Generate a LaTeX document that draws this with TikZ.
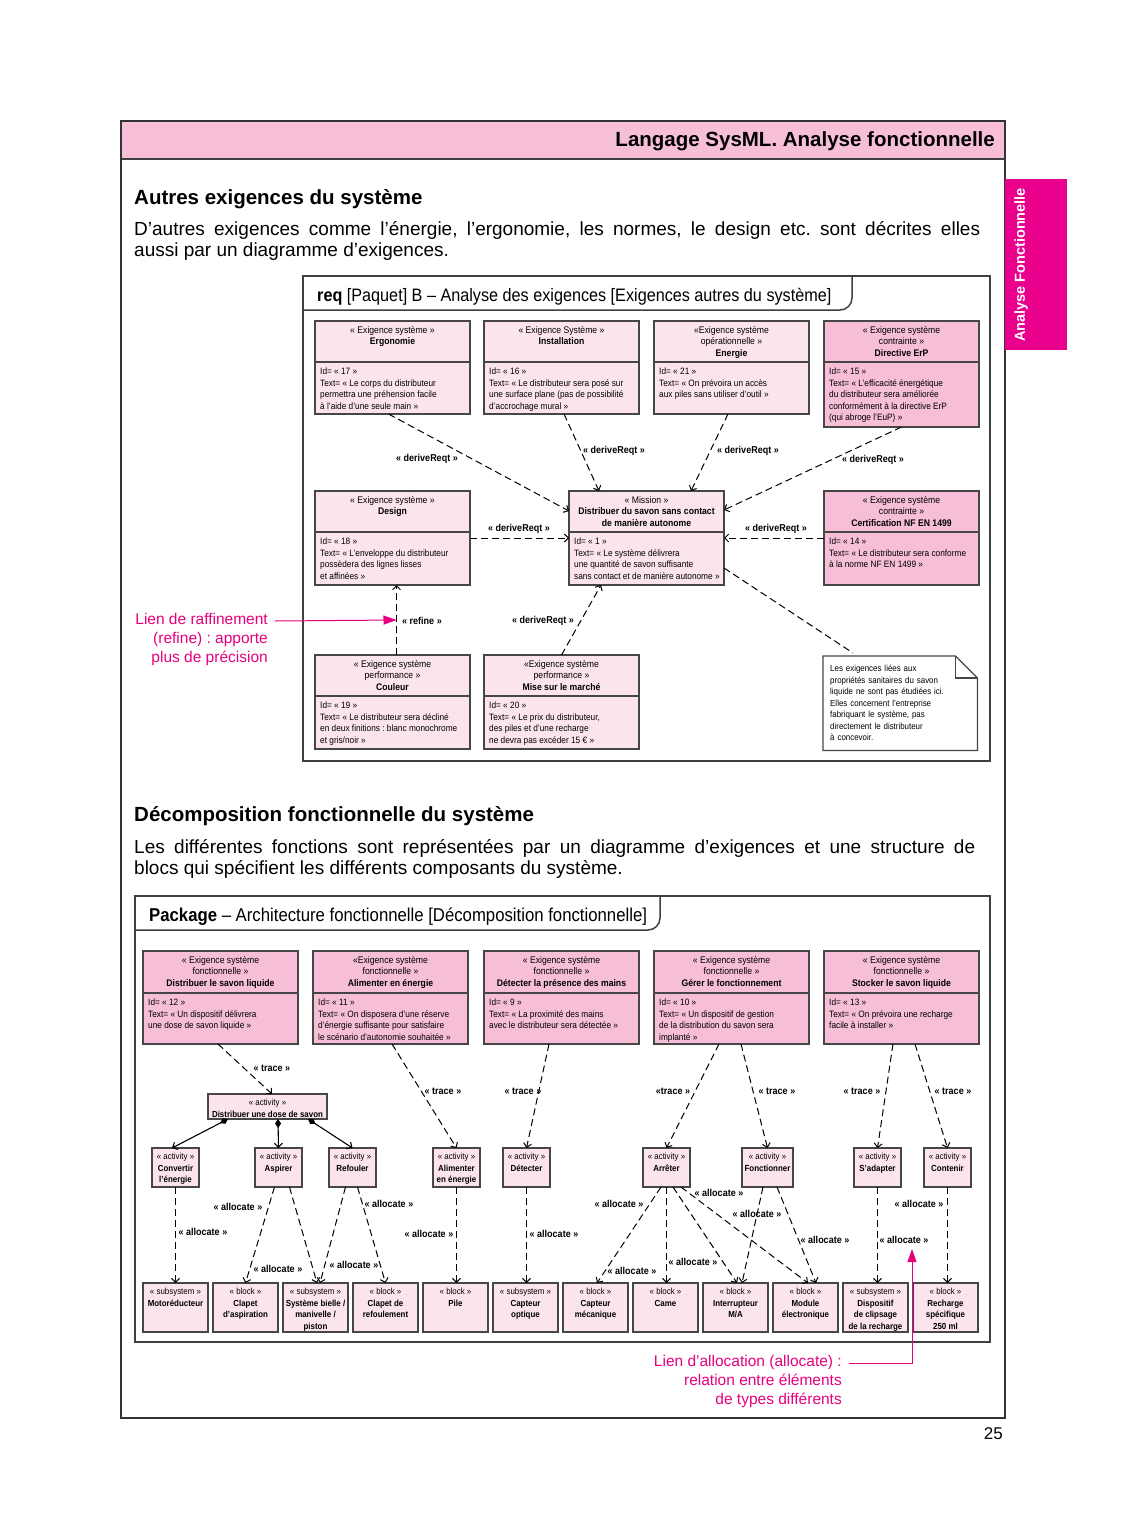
\documentclass[tikz,border=0pt]{standalone}
\usepackage{fontspec}
\setmainfont{Liberation Sans}
\newfontfamily\condfont{Liberation Sans}[FakeStretch=0.9]
\usetikzlibrary{arrows.meta,positioning,calc}
\frenchspacing

\definecolor{bandpink}{RGB}{247,190,216}
\definecolor{reqdark}{RGB}{246,190,215}
\definecolor{reqlight}{RGB}{252,228,239}
\definecolor{tabmag}{RGB}{233,0,140}
\definecolor{annotmag}{RGB}{230,0,126}
\definecolor{boxgray}{RGB}{70,70,70}

\newcommand\headfont{\condfont\fontsize{9.6}{11.6}\selectfont}
\newcommand\boxfont{\condfont\fontsize{9.2}{11.4}\selectfont}
\newcommand\actfont{\condfont\fontsize{8.8}{11.5}\selectfont}
\newcommand\lblfont{\condfont\bfseries\fontsize{10}{11}\selectfont}

% requirement box: header and body compartments
\newcommand\reqbox[7]{%
  \node[reqframe, fill=#3, minimum height=#5pt, #2, anchor=north west] (#1) {};
  \draw[boxline] ([yshift=-#4pt]#1.north west) -- ([yshift=-#4pt]#1.north east);
  \node[headtext] (#1-h) at ([yshift=-5pt]#1.north) {#6};
  \node[bodytext] (#1-b) at ([xshift=5pt,yshift=-#4pt-6pt]#1.north west) {#7};
}
% activity or block box
\newcommand\umlbox[4]{%
  \node[#1, #3, anchor=north west] (#2) {};
  \node[acttext] (#2-t) at ([yshift=-5pt]#2.north) {#4};
}

\begin{document}
\begin{tikzpicture}[
        x=1pt, y=-1pt,
        boxline/.style={draw=boxgray, line width=1.2pt},
        frameline/.style={draw=black!75, line width=1.5pt},
        reqframe/.style={
            boxline,
            rectangle,
            minimum width=155pt,
            inner sep=0pt,
            outer sep=0pt
        },
        headtext/.style={font=\headfont, align=center, inner sep=0pt, anchor=north},
        bodytext/.style={font=\boxfont, align=left, inner sep=0pt, anchor=north west},
        acttext/.style={font=\actfont, align=center, inner sep=0pt, anchor=north},
        actframe/.style={boxline, fill=reqlight, minimum width=47pt, minimum height=39pt, inner sep=0pt, outer sep=0pt},
        blockframe/.style={actframe, minimum width=65pt, minimum height=49pt},
        dep/.style={
            line width=1pt,
            dash pattern=on 7pt off 4pt,
            -{Straight Barb[length=4pt,width=8pt]}
        },
        link/.style={line width=1pt, dash pattern=on 7pt off 4pt},
        comp/.style={
            line width=1.1pt,
            {Diamond[length=9pt,width=6pt]}-{Straight Barb[length=4pt,width=8pt]}
        },
        lbl/.style={font=\lblfont, inner sep=0pt},
        annot/.style={text=annotmag, inner sep=0pt, align=right, font=\fontsize{15.5}{19}\selectfont},
        annotarrow/.style={draw=annotmag, line width=1pt, -{Triangle[length=13pt,width=9pt]}}
    ]

        \fill[white] (0,0) rectangle (1125,1539);
        \useasboundingbox (0,0) rectangle (1125,1539);

        % page frame and header
        \fill[bandpink] (121,121) rectangle (1005,159);
        \draw[frameline] (121,159) -- (1005,159);
        \draw[line width=1.8pt, draw=black!80] (121,121) rectangle (1005,1418);
        \node[anchor=east, inner sep=0pt, font=\bfseries\fontsize{20.5}{24}\selectfont] (pagetitle) at (995,141) {Langage SysML. Analyse fonctionnelle};

        \node[fill=tabmag, minimum width=62pt, minimum height=171pt, inner sep=0pt, anchor=north west] (tab) at (1005,179) {};
        \node[rotate=90, text=white, font=\bfseries\fontsize{14.5}{18}\selectfont] (tabtext) at (1021,265) {Analyse Fonctionnelle};

        % first section
        \node[anchor=base west, inner sep=0pt, font=\bfseries\fontsize{20.5}{24}\selectfont] (sec1) at (134,204) {Autres exigences du système};
        \node[anchor=north west, text width=846pt, align=justify, inner sep=0pt, font=\fontsize{19}{21}\selectfont] (para1) at (134,221)
            {D’autres exigences comme l’énergie, l’ergonomie, les normes, le design etc. sont décrites elles\linebreak aussi par un diagramme d’exigences.};

        \draw[frameline] (303,276) rectangle (990,761);
        \draw[frameline, rounded corners=12pt] (303,310) -- (852,310) -- (852,276);
        \node[anchor=base west, inner sep=0pt, font=\condfont\fontsize{18}{20}\selectfont] (reqtitle) at (317,301)
            {\textbf{req} [Paquet] B – Analyse des exigences [Exigences autres du système]};

        \reqbox{ergo}{at={(315,321)}}{reqlight}{41}{93}
            {« Exigence système »\\\textbf{Ergonomie}}
            {Id= « 17 »\\Text= « Le corps du distributeur\\permettra une préhension facile\\à l’aide d’une seule main »}
        \reqbox{inst}{right=14pt of ergo.north east}{reqlight}{41}{93}
            {« Exigence Système »\\\textbf{Installation}}
            {Id= « 16 »\\Text= « Le distributeur sera posé sur\\une surface plane (pas de possibilité\\d’accrochage mural »}
        \reqbox{ener}{right=15pt of inst.north east}{reqlight}{41}{93}
            {«Exigence système\\opérationnelle »\\\textbf{Energie}}
            {Id= « 21 »\\Text= « On prévoira un accès\\aux piles sans utiliser d’outil »}
        \reqbox{erp}{right=15pt of ener.north east}{reqdark}{41}{106}
            {« Exigence système\\contrainte »\\\textbf{Directive ErP}}
            {Id= « 15 »\\Text= « L’efficacité énergétique\\du distributeur sera améliorée\\conformément à la directive ErP\\(qui abroge l’EuP) »}

        \reqbox{design}{below=77pt of ergo.south west}{reqlight}{41}{94}
            {« Exigence système »\\\textbf{Design}}
            {Id= « 18 »\\Text= « L’enveloppe du distributeur\\possèdera des lignes lisses\\et affinées  »}
        \reqbox{mission}{right=99pt of design.north east}{reqlight}{41}{94}
            {« Mission »\\\textbf{Distribuer du savon sans contact}\\\textbf{de manière autonome}}
            {Id= « 1 »\\Text= « Le système délivrera\\une quantité de savon suffisante\\sans contact et de manière autonome »}
        \reqbox{cert}{right=100pt of mission.north east}{reqdark}{41}{94}
            {« Exigence système\\contrainte »\\\textbf{Certification NF EN 1499}}
            {Id= « 14 »\\Text= « Le distributeur sera conforme\\à la norme NF EN 1499 »}

        \reqbox{couleur}{below=70pt of design.south west}{reqlight}{41}{94}
            {« Exigence système\\performance »\\\textbf{Couleur}}
            {Id= « 19 »\\Text= « Le distributeur sera décliné\\en deux finitions : blanc monochrome\\et gris/noir »}
        \reqbox{mise}{right=14pt of couleur.north east}{reqlight}{41}{94}
            {«Exigence système\\performance »\\\textbf{Mise sur le marché}}
            {Id= « 20 »\\Text= « Le prix du distributeur,\\des piles et d’une recharge\\ne devra pas excéder 15 € »}

        % note
        \node[font=\actfont, align=left, text width=140pt, inner sep=7pt, minimum height=94pt, anchor=north west] (note) at (823,656)
            {Les exigences liées aux\\propriétés sanitaires du savon\\liquide ne sont pas étudiées ici.\\Elles concernent l’entreprise\\fabriquant le système, pas\\directement le distributeur\\à concevoir.};
        \draw[boxline] (note.north west) -- ([xshift=-22pt]note.north east) -- ([yshift=-22pt]note.north east)
            -- (note.south east) -- (note.south west) -- cycle;
        \draw[boxline] ([xshift=-22pt]note.north east) -- ([xshift=-22pt,yshift=-22pt]note.north east) -- ([yshift=-22pt]note.north east);

        % requirement links
        \draw[dep] ([xshift=-4pt]ergo.south) -- ([yshift=-20pt]mission.north west);
        \draw[dep] ([xshift=2.5pt]inst.south) -- ([xshift=-47.5pt]mission.north);
        \draw[dep] ([xshift=-3.5pt]ener.south) -- ([xshift=44.5pt]mission.north);
        \draw[dep] (erp.south) -- ([yshift=-19pt]mission.north east);
        \draw[dep] (design.east) -- (design.east -| mission.west);
        \draw[dep] (cert.west) -- (cert.west -| mission.east);
        \draw[dep] ([xshift=4pt]couleur.north) -- coordinate (refmid) ([xshift=4pt]design.south);
        \draw[dep] (mise.north) -- ([xshift=-45.5pt]mission.south);
        \draw[link] ([yshift=-30pt]mission.east) -- ([xshift=30pt,yshift=3pt]note.north west);

        \node[lbl] (dr1) at (427,459) {« deriveReqt »};
        \node[lbl] (dr2) at (614,451) {« deriveReqt »};
        \node[lbl] (dr3) at (748,451) {« deriveReqt »};
        \node[lbl] (dr4) at (873,460) {« deriveReqt »};
        \node[lbl] (dr5) at (519,529) {« deriveReqt »};
        \node[lbl] (dr6) at (776,529) {« deriveReqt »};
        \node[lbl] (rf1) at (422,621) {« refine »};
        \node[lbl] (dr7) at (543,621) {« deriveReqt »};

        % refine annotation
        \node[annot, anchor=north east] (refnote) at (268,613) {Lien de raffinement\\(refine) : apporte\\plus de précision};
        \coordinate (refstart) at (275,621);
        \draw[annotarrow] (refstart) -- (refmid);

        % second section
        \node[anchor=base west, inner sep=0pt, font=\bfseries\fontsize{20.5}{24}\selectfont] (sec2) at (134,821) {Décomposition fonctionnelle du système};
        \node[anchor=north west, text width=841pt, align=justify, inner sep=0pt, font=\fontsize{19}{21}\selectfont] (para2) at (134,839)
            {Les différentes fonctions sont représentées par un diagramme d’exigences et une structure de\linebreak blocs qui spécifient les différents composants du système.};

        \draw[frameline] (135,896) rectangle (990,1342);
        \draw[frameline, rounded corners=12pt] (135,930) -- (660,930) -- (660,896);
        \node[anchor=base west, inner sep=0pt, font=\condfont\fontsize{18.6}{20}\selectfont] (pkgtitle) at (149,921)
            {\textbf{Package} – Architecture fonctionnelle [Décomposition fonctionnelle]};

        \reqbox{f1}{at={(143,951)}}{reqdark}{42}{93}
            {« Exigence système\\fonctionnelle »\\\textbf{Distribuer le savon liquide}}
            {Id= « 12 »\\Text= « Un dispositif délivrera\\une dose de savon liquide »}
        \reqbox{f2}{right=15pt of f1.north east}{reqdark}{42}{93}
            {«Exigence système\\fonctionnelle »\\\textbf{Alimenter en énergie}}
            {Id= « 11 »\\Text= « On disposera d’une réserve\\d’énergie suffisante pour satisfaire\\le scénario d’autonomie souhaitée »}
        \reqbox{f3}{right=16pt of f2.north east}{reqdark}{42}{93}
            {« Exigence système\\fonctionnelle »\\\textbf{Détecter la présence des mains}}
            {Id= « 9 »\\Text= « La proximité des mains\\avec le distributeur sera détectée »}
        \reqbox{f4}{right=15pt of f3.north east}{reqdark}{42}{93}
            {« Exigence système\\fonctionnelle »\\\textbf{Gérer le fonctionnement}}
            {Id= « 10 »\\Text= « Un dispositif de gestion\\de la distribution du savon sera\\implanté »}
        \reqbox{f5}{right=15pt of f4.north east}{reqdark}{42}{93}
            {« Exigence système\\fonctionnelle »\\\textbf{Stocker le savon liquide}}
            {Id= « 13 »\\Text= « On prévoira une recharge\\facile à installer »}

        % activities
        \umlbox{actframe}{dose}{at={(208,1094)}, minimum width=119pt, minimum height=25pt}{« activity »\\\textbf{Distribuer une dose de savon}}
        \umlbox{actframe}{conv}{at={(152,1148)}}{« activity »\\\textbf{Convertir}\\\textbf{l’énergie}}
        \umlbox{actframe}{asp}{at={(255,1148)}}{« activity »\\\textbf{Aspirer}}
        \umlbox{actframe}{ref}{at={(329,1148)}}{« activity »\\\textbf{Refouler}}
        \umlbox{actframe}{alim}{at={(433,1148)}}{« activity »\\\textbf{Alimenter}\\\textbf{en énergie}}
        \umlbox{actframe}{det}{at={(503,1148)}}{« activity »\\\textbf{Détecter}}
        \umlbox{actframe}{arr}{at={(643,1148)}}{« activity »\\\textbf{Arrêter}}
        \umlbox{actframe}{fonc}{at={(742,1148)}, minimum width=51pt}{« activity »\\\textbf{Fonctionner}}
        \umlbox{actframe}{sad}{at={(854,1148)}}{« activity »\\\textbf{S’adapter}}
        \umlbox{actframe}{cont}{at={(924,1148)}}{« activity »\\\textbf{Contenir}}

        % blocks
        \umlbox{blockframe}{b1}{at={(143,1283)}}{« subsystem »\\\textbf{Motoréducteur}}
        \umlbox{blockframe}{b2}{right=5pt of b1.north east}{« block »\\\textbf{Clapet}\\\textbf{d’aspiration}}
        \umlbox{blockframe}{b3}{right=5pt of b2.north east}{« subsystem »\\\textbf{Système bielle /}\\\textbf{manivelle /}\\\textbf{piston}}
        \umlbox{blockframe}{b4}{right=5pt of b3.north east}{« block »\\\textbf{Clapet de}\\\textbf{refoulement}}
        \umlbox{blockframe}{b5}{right=5pt of b4.north east}{« block »\\\textbf{Pile}}
        \umlbox{blockframe}{b6}{right=5pt of b5.north east}{« subsystem »\\\textbf{Capteur}\\\textbf{optique}}
        \umlbox{blockframe}{b7}{right=5pt of b6.north east}{« block »\\\textbf{Capteur}\\\textbf{mécanique}}
        \umlbox{blockframe}{b8}{right=5pt of b7.north east}{« block »\\\textbf{Came}}
        \umlbox{blockframe}{b9}{right=5pt of b8.north east}{« block »\\\textbf{Interrupteur}\\\textbf{M/A}}
        \umlbox{blockframe}{b10}{right=5pt of b9.north east}{« block »\\\textbf{Module}\\\textbf{électronique}}
        \umlbox{blockframe}{b11}{right=5pt of b10.north east}{« subsystem »\\\textbf{Dispositif}\\\textbf{de clipsage}\\\textbf{de la recharge}}
        \umlbox{blockframe}{b12}{right=5pt of b11.north east}{« block »\\\textbf{Recharge}\\\textbf{spécifique}\\\textbf{250 ml}}

        % trace links
        \draw[dep] ([xshift=-2.5pt]f1.south) -- ([xshift=4.5pt]dose.north);
        \draw[dep] ([xshift=1.5pt]f2.south) -- (alim.north);
        \draw[dep] ([xshift=-12.5pt]f3.south) -- (det.north);
        \draw[dep] ([xshift=-12.5pt]f4.south) -- (arr.north);
        \draw[dep] ([xshift=9.5pt]f4.south) -- (fonc.north);
        \draw[dep] ([xshift=-8.5pt]f5.south) -- (sad.north);
        \draw[dep] ([xshift=13.5pt]f5.south) -- (cont.north);

        % composition
        \draw[comp] ([xshift=20pt]dose.south west) -- ([xshift=-3.5pt]conv.north);
        \draw[comp] ([xshift=10.5pt]dose.south) -- (asp.north);
        \draw[comp] ([xshift=-19pt]dose.south east) -- (ref.north);

        % allocate links
        \draw[dep] (conv.south) -- (b1.north);
        \draw[dep] ([xshift=-4pt]asp.south) -- (b2.north);
        \draw[dep] ([xshift=11pt]asp.south) -- ([xshift=1.5pt]b3.north);
        \draw[dep] ([xshift=-7pt]ref.south) -- ([xshift=4.5pt]b3.north);
        \draw[dep] ([xshift=5pt]ref.south) -- (b4.north);
        \draw[dep] (alim.south) -- (alim.south |- b5.north);
        \draw[dep] (det.south) -- (det.south |- b6.north);
        \draw[dep] ([xshift=-5.5pt]arr.south) -- ([xshift=1.5pt]b7.north);
        \draw[dep] (arr.south) -- (arr.south |- b8.north);
        \draw[dep] ([xshift=6.5pt]arr.south) -- ([xshift=1.5pt]b9.north);
        \draw[dep] ([xshift=14.5pt]arr.south) -- ([xshift=2.5pt]b10.north);
        \draw[dep] ([xshift=-4.5pt]fonc.south) -- ([xshift=6.5pt]b9.north);
        \draw[dep] ([xshift=9.5pt]fonc.south) -- ([xshift=10.5pt]b10.north);
        \draw[dep] (sad.south) -- (sad.south |- b11.north);
        \draw[dep] (cont.south) -- (cont.south |- b12.north);

        \node[lbl] (tr1) at (272,1068) {« trace »};
        \node[lbl] (tr2) at (443,1091) {« trace »};
        \node[lbl] (tr3) at (523,1091) {« trace »};
        \node[lbl] (tr4) at (673,1091) {«trace »};
        \node[lbl] (tr5) at (777,1091) {« trace »};
        \node[lbl] (tr6) at (862,1091) {« trace »};
        \node[lbl] (tr7) at (953,1091) {« trace »};

        \node[lbl] (al1) at (203,1232) {« allocate »};
        \node[lbl] (al2) at (238,1207) {« allocate »};
        \node[lbl] (al3) at (278,1269) {« allocate »};
        \node[lbl] (al4) at (354,1265) {« allocate »};
        \node[lbl] (al5) at (389,1204) {« allocate »};
        \node[lbl] (al6) at (429,1234) {« allocate »};
        \node[lbl] (al7) at (554,1234) {« allocate »};
        \node[lbl] (al8) at (619,1204) {« allocate »};
        \node[lbl] (al9) at (632,1271) {« allocate »};
        \node[lbl] (al10) at (719,1193) {« allocate »};
        \node[lbl] (al11) at (757,1214) {« allocate »};
        \node[lbl] (al12) at (693,1262) {« allocate »};
        \node[lbl] (al13) at (825,1240) {« allocate »};
        \node[lbl] (al14) at (904,1240) {« allocate »};
        \node[lbl] (al15) at (919,1204) {« allocate »};

        % allocate annotation
        \node[annot, anchor=north east] (allocnote) at (842,1355) {Lien d’allocation (allocate) :\\relation entre éléments\\de types différents};
        \coordinate (allocstart) at (849,1363);
        \coordinate (alloctip) at (912,1249);
        \draw[annotarrow] (allocstart) -| (alloctip);

        \node[anchor=east, inner sep=0pt, font=\fontsize{17}{20}\selectfont] (pagenum) at (1003,1434) {25};

    \end{tikzpicture}
\end{document}
